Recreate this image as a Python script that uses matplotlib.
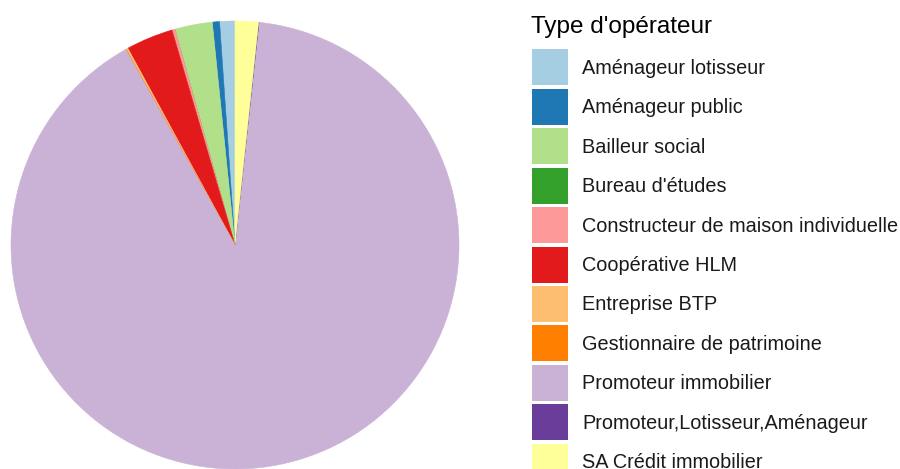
import matplotlib
matplotlib.use("Agg")
import matplotlib.pyplot as plt
from matplotlib.patches import Rectangle

categories = ["Aménageur lotisseur", "Aménageur public", "Bailleur social",
              "Bureau d'études", "Constructeur de maison individuelle",
              "Coopérative HLM", "Entreprise BTP", "Gestionnaire de patrimoine",
              "Promoteur immobilier", "Promoteur,Lotisseur,Aménageur",
              "SA Crédit immobilier"]
values = [1.10, 0.52, 2.71, 0.0, 0.21, 3.40, 0.14, 0.03, 90.18, 0.03, 1.68]
colors = ["#A6CEE3", "#1F78B4", "#B2DF8A", "#33A02C", "#FB9A99", "#E31A1C",
          "#FDBF6F", "#FF7F00", "#CAB2D6", "#6A3D9A", "#FFFF99"]
legend_title = "Type d'opérateur"

W, H = 900, 469
fig = plt.figure(figsize=(W / 100, H / 100), dpi=100)
plt.rcParams['font.family'] = ['Liberation Sans', 'DejaVu Sans']

cx, cy, r = 235, 245, 224
ax = fig.add_axes([(cx - r) / W, (H - cy - r) / H, 2 * r / W, 2 * r / H])
ax.pie(values, colors=colors, startangle=90, counterclock=True,
       wedgeprops=dict(linewidth=0.4), radius=1)
for w, c in zip(ax.patches, colors):
    w.set_edgecolor(c)
ax.set_xlim(-1, 1)
ax.set_ylim(-1, 1)
ax.set_aspect('equal')
ax.axis('off')

# legend
fig.text(531 / W, 1 - 33 / H, legend_title, fontsize=17.5, ha='left',
         va='baseline', color='black')
key_x, key_w, key_h = 532, 36, 36
top0, step = 49.5, 39.4
for i, (lab, col) in enumerate(zip(categories, colors)):
    top = top0 + i * step
    fig.patches.append(Rectangle((key_x / W, 1 - (top + key_h) / H), key_w / W, key_h / H,
                                 transform=fig.transFigure, facecolor=col,
                                 edgecolor='none'))
    yc = top + key_h / 2
    fig.text(582.5 / W, 1 - (yc + 6.5) / H, lab, fontsize=14.3, ha='left',
             va='baseline', color='#1a1a1a')

fig.savefig("out.png", dpi=100)
